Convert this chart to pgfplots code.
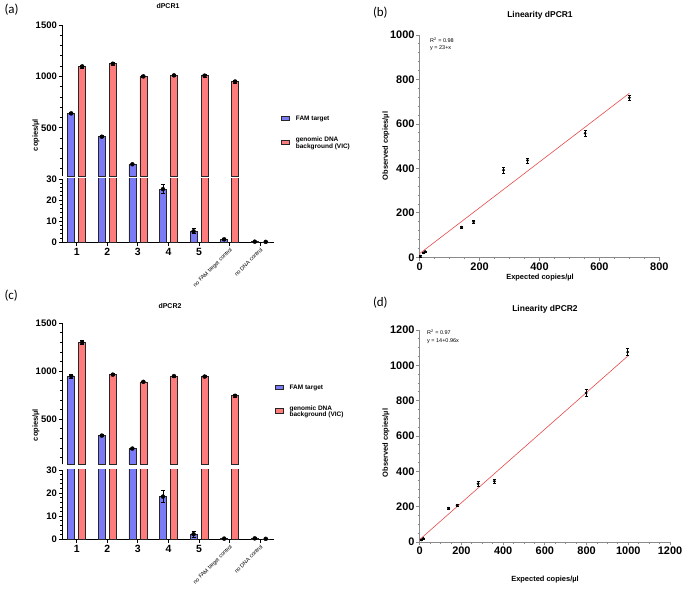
\documentclass[border=0pt]{standalone}
\usepackage{pgfplots}
\usepackage{pgfplotstable}
\pgfplotsset{compat=1.18}
\usepackage{fontspec}
\setmainfont{Liberation Sans}
\newfontfamily\labfont{Carlito}
\definecolor{famblue}{HTML}{7B7BF7}
\definecolor{vicred}{HTML}{FF7C7C}
\definecolor{fitred}{HTML}{E8494B}
\definecolor{axgray}{HTML}{8A8A8A}
\newcommand{\fs}[1]{\fontsize{#1}{#1}\selectfont}

\pgfplotstableread{
c fam famerr vic vicerr
1 640 10 1097 15
2 413 9 1123 15
3 145 3 1000 14
4 25.2 2.2 1010 14
5 5.2 1.2 1007 14
6 1.4 0.6 950 13
7 0.3 0.3 0.2 0.1
}\dpcrA

\pgfplotstableread{
c fam famerr vic vicerr
1 950 20 1300 18
2 330 8 965 12
3 195 5 890 10
4 18.5 2.7 950 12
5 2.2 1.3 945 12
6 0.3 0.3 745 15
7 0.4 0.6 0.2 0.1
}\dpcrB

\pgfplotstableread{
x y err
2 5 3
14 20 3
18 26 3
140 135 6
180 160 6
280 392 12
360 436 11
552 558 12
700 718 12
}\linA

\pgfplotstableread{
x y err
7 12 3
17 20 3
139 191 7
179 208 8
280 330 12
358 344 11
798 843 20
997 1075 20
}\linB

\pgfplotsset{
 barbase/.style={
   scale only axis,
   xmin=0.52, xmax=7.45,
   width=212bp,
   clip=true,
   tick align=outside,
   axis line style={line width=0.9bp, black},
   major tick length=3.5bp, minor tick length=2bp,
   every tick/.style={black, line width=0.8bp},
   /pgf/number format/assume math mode=true,
   /pgf/number format/1000 sep={},
   yticklabel style={font=\bfseries\fs{9.5}, inner sep=1.5bp},
 },
 bartop/.style={barbase, ymin=30, ymax=1500, ytick={500,1000,1500},
   minor ytick={100,200,300,400,600,700,800,900,1100,1200,1300,1400},
   axis y line*=left, axis x line=none, xtick=\empty},
 barbot/.style={barbase, ymin=0, ymax=30, ytick={0,10,20,30}, minor y tick num=4,
   axis x line*=bottom, axis y line*=left,
   xtick={1,2,3,4,5}, xticklabel style={font=\bfseries\fs{10.5}, inner sep=2bp},
   extra x ticks={6,7}, extra x tick labels={no FAM target control, no DNA control},
   extra x tick style={xticklabel style={rotate=45, anchor=north east, font=\fs{5.5}, inner sep=1bp}}},
 errs/.style={only marks, mark=none,
   /pgfplots/error bars/y dir=both, /pgfplots/error bars/y explicit,
   /pgfplots/error bars/error bar style={black, line width=0.7bp},
   /pgfplots/error bars/error mark options={rotate=90, mark size=2bp, black, line width=0.7bp}},
 famplot/.style={ybar, bar width=7bp, bar shift=-5.5bp, fill=famblue, draw=black!85, line width=0.6bp},
 vicplot/.style={ybar, bar width=7bp, bar shift=5.5bp, fill=vicred, draw=black!85, line width=0.6bp},
 linbase/.style={scale only axis, clip=false, tick align=outside,
   axis x line*=bottom, axis y line*=left,
   axis line style={line width=0.9bp, axgray},
   major tick length=3.5bp, minor tick length=2bp,
   every tick/.style={axgray, line width=0.8bp},
   /pgf/number format/assume math mode=true,
   /pgf/number format/1000 sep={},
   ticklabel style={font=\bfseries\fs{11}, inner sep=1.5bp},
   xmin=0, ymin=0},
 ptplot/.style={only marks, mark=*, mark size=1.2bp, black,
   error bars/y dir=both, error bars/y explicit,
   error bars/error bar style={black, line width=0.6bp},
   error bars/error mark options={rotate=90, mark size=1.5bp, black, line width=0.6bp}},
 legsw/.style={legend image code/.code={\draw[fill=#1, draw=black!85, line width=0.6bp] (0bp,-2bp) rectangle (8bp,2.5bp); \path (13bp,0bp);}},
 legst/.style={legend style={at={#1}, anchor=west, draw=none, fill=none,
    font=\bfseries\fs{6.5}, row sep=14bp, cells={anchor=west, align=left},
    nodes={inner sep=1bp, text depth=0pt}}, legend cell align=left},
}

\begin{document}
\begin{tikzpicture}[x=1bp,y=1bp]
\useasboundingbox (0,0) rectangle (685,593);

% ---------------- (a) ----------------
\begin{axis}[bartop, at={(62bp,416.9bp)}, anchor=south west, height=151.1bp,
  legst={(1.02,0.29)}, restrict y to domain=30:3000]
\addlegendimage{legsw=famblue}
\addlegendimage{legsw=vicred}
\addlegendentry{FAM target}
\addlegendentry{genomic DNA\\background (VIC)}
\addplot[famplot, forget plot] table[x=c, y=fam] {\dpcrA};
\addplot[vicplot, forget plot] table[x=c, y=vic] {\dpcrA};
\addplot[errs, forget plot, xshift=-5.5bp] table[x=c, y=fam, y error=famerr] {\dpcrA};
\addplot[errs, forget plot, xshift=5.5bp] table[x=c, y=vic, y error=vicerr] {\dpcrA};
\end{axis}
\begin{axis}[barbot, at={(62bp,350.7bp)}, anchor=south west, height=63.3bp]
\addplot[famplot] table[x=c, y=fam] {\dpcrA};
\addplot[vicplot] table[x=c, y=vic] {\dpcrA};
\addplot[errs, xshift=-5.5bp] table[x=c, y=fam, y error=famerr] {\dpcrA};
\addplot[errs, xshift=5.5bp] table[x=c, y=vic, y error=vicerr] {\dpcrA};
\end{axis}

% ---------------- (c) ----------------
\begin{axis}[bartop, at={(62bp,128.6bp)}, anchor=south west, height=141.1bp,
  legst={(0.99,0.45)}, restrict y to domain=30:3000]
\addlegendimage{legsw=famblue}
\addlegendimage{legsw=vicred}
\addlegendentry{FAM target}
\addlegendentry{genomic DNA\\background (VIC)}
\addplot[famplot, forget plot] table[x=c, y=fam] {\dpcrB};
\addplot[vicplot, forget plot] table[x=c, y=vic] {\dpcrB};
\addplot[errs, forget plot, xshift=-5.5bp] table[x=c, y=fam, y error=famerr] {\dpcrB};
\addplot[errs, forget plot, xshift=5.5bp] table[x=c, y=vic, y error=vicerr] {\dpcrB};
\end{axis}
\begin{axis}[barbot, at={(62bp,53.7bp)}, anchor=south west, height=69.3bp]
\addplot[famplot] table[x=c, y=fam] {\dpcrB};
\addplot[vicplot] table[x=c, y=vic] {\dpcrB};
\addplot[errs, xshift=-5.5bp] table[x=c, y=fam, y error=famerr] {\dpcrB};
\addplot[errs, xshift=5.5bp] table[x=c, y=vic, y error=vicerr] {\dpcrB};
\end{axis}

% ---------------- (b) ----------------
\begin{axis}[linbase, at={(419.7bp,335.7bp)}, anchor=south west,
  width=239.6bp, height=222.3bp, xmax=800, ymax=1000,
  xtick={0,200,...,800}, ytick={0,200,...,1000},
  minor x tick num=3, minor y tick num=4]
\addplot[fitred, line width=0.6bp] coordinates {(0,17) (700,738)};
\addplot[ptplot] table[x=x, y=y, y error=err] {\linA};
\end{axis}

% ---------------- (d) ----------------
\begin{axis}[linbase, at={(419.7bp,51bp)}, anchor=south west,
  width=250.3bp, height=212bp, xmax=1200, ymax=1200,
  xtick={0,200,...,1200}, ytick={0,200,...,1200},
  minor x tick num=3, minor y tick num=3]
\addplot[fitred, line width=0.6bp] coordinates {(0,14) (1000,1055)};
\addplot[ptplot] table[x=x, y=y, y error=err] {\linB};
\end{axis}

% ---------------- texts ----------------
\node[anchor=west, font=\labfont\fs{13}] at (1,583.5) {(a)};
\node[anchor=west, font=\labfont\fs{13}] at (369.5,580.5) {(b)};
\node[anchor=west, font=\labfont\fs{13}] at (1,297) {(c)};
\node[anchor=west, font=\labfont\fs{13}] at (369.5,290) {(d)};

\node[font=\bfseries\fs{7}] at (168,586.5) {dPCR1};
\node[font=\bfseries\fs{7}] at (170,287) {dPCR2};
\node[font=\bfseries\fs{8.5}] at (540,577.3) {Linearity dPCR1};
\node[font=\bfseries\fs{8.5}] at (545,283.7) {Linearity dPCR2};

\node[rotate=90, font=\bfseries\fs{7.5}] at (36,458) {copies/µl};
\node[rotate=90, font=\bfseries\fs{7.5}] at (36,168) {copies/µl};
\node[rotate=90, font=\bfseries\fs{7.5}] at (386,447) {Observed copies/µl};
\node[rotate=90, font=\bfseries\fs{7.5}] at (386,150) {Observed copies/µl};
\node[font=\bfseries\fs{7.5}] at (540,315) {Expected copies/µl};
\node[font=\bfseries\fs{7.5}] at (545,13) {Expected copies/µl};

\node[anchor=west, font=\fs{5.5}, inner sep=0pt] at (430,553) {R\textsuperscript{2} = 0.98};
\node[anchor=west, font=\fs{5.5}, inner sep=0pt] at (430,544.5) {y = 23+x};
\node[anchor=west, font=\fs{5.5}, inner sep=0pt] at (427,260.5) {R\textsuperscript{2} = 0.97};
\node[anchor=west, font=\fs{5.5}, inner sep=0pt] at (427,252) {y = 14+0.96x};
\end{tikzpicture}
\end{document}
